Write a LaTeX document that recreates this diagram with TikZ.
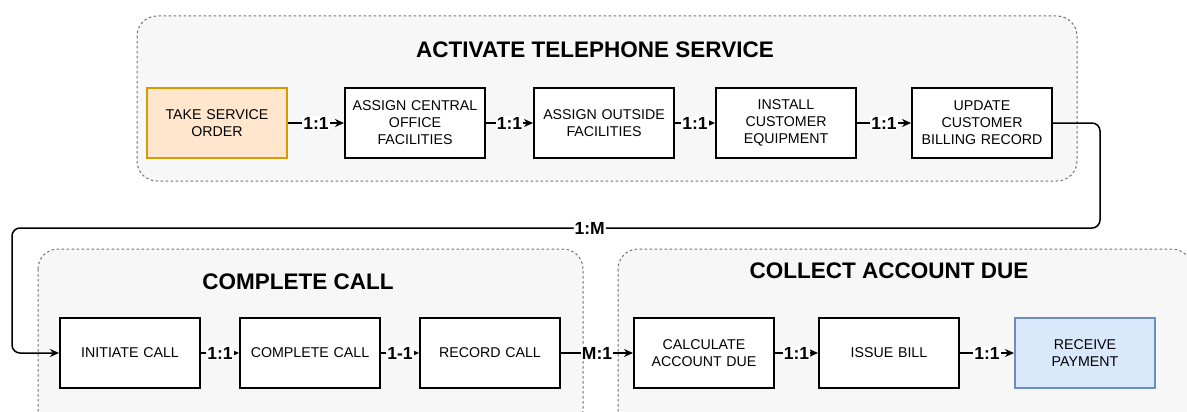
\documentclass[tikz,border=0pt]{standalone}
\usepackage{fontspec}
\setmainfont{Liberation Sans}
\usetikzlibrary{arrows.meta}
\definecolor{grpfill}{HTML}{F7F7F7}
\definecolor{grpline}{HTML}{707070}
\definecolor{orfill}{HTML}{FFE6CC}
\definecolor{orline}{HTML}{D79B00}
\definecolor{blfill}{HTML}{DAE8FC}
\definecolor{blline}{HTML}{6C8EBF}
\tikzset{
  grp/.style={draw=grpline, fill=grpfill, dash pattern=on 2.5pt off 2.5pt, line width=1pt, rounded corners=20pt},
  grptitle/.style={font=\fontsize{22.5}{26}\selectfont\bfseries, inner sep=0pt},
  proc/.style={draw=black, fill=white, line width=2pt, minimum width=140pt, minimum height=70pt, text width=138pt, align=center, inner sep=0pt, font=\fontsize{14.2}{17}\selectfont},
  lbl/.style={fill=white, inner sep=1pt, font=\fontsize{17.5}{19}\selectfont\bfseries},
  conn/.style={draw=black, line width=1.5pt, -{Stealth[length=9pt,width=8pt]}}
}
\begin{document}
\begin{tikzpicture}[x=1pt,y=-1pt]
\useasboundingbox (0,0) rectangle (1187,412);
% groups
\draw[grp] (137,16) rectangle (1077,181);
\draw[grp] (38,249) rectangle (583,430);
\draw[grp] (618,249) rectangle (1192,430);
\node[grptitle] (t1) at (595,50) {ACTIVATE TELEPHONE SERVICE};
\node[grptitle] (t2) at (298,282) {COMPLETE CALL};
\node[grptitle] (t3) at (889,271) {COLLECT ACCOUNT DUE};
% row 1
\node[proc, fill=orfill, draw=orline] (a1) at (217,123) {TAKE SERVICE\\ORDER};
\node[proc] (a2) at (415,123) {ASSIGN CENTRAL\\OFFICE\\FACILITIES};
\node[proc] (a3) at (604,123) {ASSIGN OUTSIDE\\FACILITIES};
\node[proc] (a4) at (786,123) {INSTALL\\CUSTOMER\\EQUIPMENT};
\node[proc] (a5) at (982,123) {UPDATE\\CUSTOMER\\BILLING RECORD};
% row 2
\node[proc] (b1) at (130,353) {INITIATE CALL};
\node[proc] (b2) at (310,353) {COMPLETE CALL};
\node[proc] (b3) at (490,353) {RECORD CALL};
\node[proc] (c1) at (704,353) {CALCULATE\\ACCOUNT DUE};
\node[proc] (c2) at (889,353) {ISSUE BILL};
\node[proc, fill=blfill, draw=blline] (c3) at (1085,353) {RECEIVE\\PAYMENT};
% connectors row 1
\draw[conn] (a1) -- node[lbl] {1:1} (a2);
\draw[conn] (a2) -- node[lbl] {1:1} (a3);
\draw[conn] (a3) -- node[lbl] {1:1} (a4);
\draw[conn] (a4) -- node[lbl] {1:1} (a5);
% long connector
\coordinate (k1) at (1100,123);
\coordinate (k2) at (1100,228);
\coordinate (k3) at (12,228);
\coordinate (k4) at (12,353);
\draw[conn, rounded corners=8pt] (a5.east) -- (k1) -- (k2) -- node[lbl, pos=0.469] {1:M} (k3) -- (k4) -- (b1.west);
% connectors row 2
\draw[conn] (b1) -- node[lbl] {1:1} (b2);
\draw[conn] (b2) -- node[lbl] {1-1} (b3);
\draw[conn] (b3) -- node[lbl] {M:1} (c1);
\draw[conn] (c1) -- node[lbl] {1:1} (c2);
\draw[conn] (c2) -- node[lbl] {1:1} (c3);
\end{tikzpicture}
\end{document}
